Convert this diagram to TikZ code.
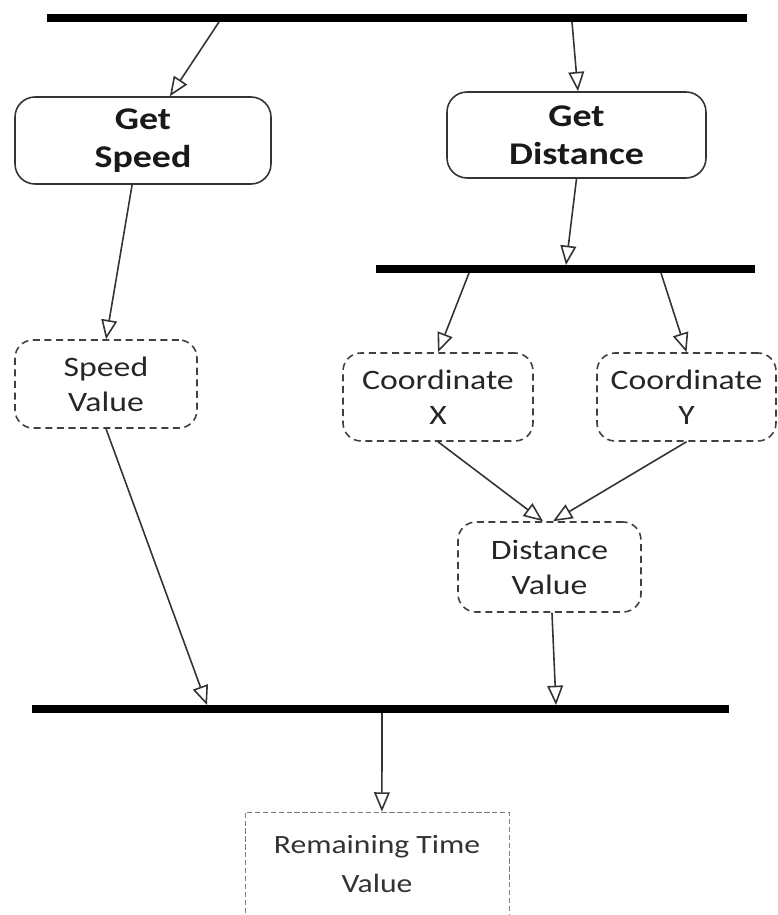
\documentclass[tikz,border=0pt]{standalone}
\usepackage{fontspec}
\setmainfont{Carlito}[FakeStretch=1.2]
\usepackage{tikz}
\usetikzlibrary{positioning,arrows.meta}

\begin{document}
\begin{tikzpicture}[x=0.02cm,y=-0.02cm,
    actbox/.style={draw=black!80,line width=0.9pt,rounded corners=0.4cm,
      align=center,inner sep=0pt,text=black!90,
      font=\bfseries\fontsize{18}{21.5}\selectfont},
    valbox/.style={draw=black!75,line width=0.9pt,dash pattern=on 4pt off 2.6pt,
      rounded corners=0.36cm,align=center,inner sep=0pt,text=black!85,
      font=\fontsize{16}{20}\selectfont},
    outbox/.style={draw=black!50,line width=0.5pt,dash pattern=on 3pt off 1.5pt,
      align=center,inner sep=0pt,text=black!80,
      font=\fontsize{15}{22.5}\selectfont},
    flow/.style={draw=black!80,line width=0.9pt,-{Triangle[open,length=11pt,width=9pt]}},
    bar/.style={line width=5pt}]
  % page frame (pixel grid, y downwards)
  \clip (0,0) rectangle (777,915);

  % fork / join bars
  \draw[bar] (47,18) -- (747,18);
  \draw[bar,line width=4.5pt] (376,269) -- (755,269);
  \draw[bar,line width=4.5pt] (32,709) -- (729,709);

  % points on the bars where flows start or end
  \coordinate (t1) at (219,22);
  \coordinate (t2) at (572,22);
  \coordinate (m0) at (566,265);
  \coordinate (m1) at (469,273);
  \coordinate (m2) at (661,273);
  \coordinate (b1) at (207,705);
  \coordinate (b2) at (556,705);
  \coordinate (b0) at (382,713);

  % actions
  \node[actbox,minimum width=5.12cm,minimum height=1.74cm] (getspeed) at (143,140.5) {Get\\Speed};
  \node[actbox,minimum width=5.18cm,minimum height=1.72cm] (getdist) at (576.5,135) {Get\\Distance};

  % values
  \node[valbox,minimum width=3.64cm,minimum height=1.76cm] (speedval) at (106,384) {Speed\\Value};
  \node[valbox,minimum width=3.8cm,minimum height=1.76cm] (coordx) at (438,397) {Coordinate\\X};
  \node[valbox,minimum width=3.58cm,minimum height=1.76cm] (coordy) at (686.5,397) {Coordinate\\Y};
  \node[valbox,minimum width=3.66cm,minimum height=1.8cm] (distval) at (549.5,567) {Distance\\Value};
  \node[outbox,minimum width=5.28cm,minimum height=2.08cm] (remtime) at (377,864) {Remaining Time\\Value};

  % flows
  \draw[flow] (t1) -- ([xshift=15.3pt]getspeed.north);
  \draw[flow] (t2) -- ([xshift=0.8pt]getdist.north);
  \draw[flow] ([xshift=-6.2pt]getspeed.south) -- (speedval.north);
  \draw[flow] (getdist.south) -- (m0);
  \draw[flow] (m1) -- (coordx.north);
  \draw[flow] (m2) -- (coordy.north);
  \draw[flow] (coordx.south) -- ([xshift=-3.7pt]distval.north);
  \draw[flow] (coordy.south) -- ([xshift=2pt]distval.north);
  \draw[flow] (speedval.south) -- (b1);
  \draw[flow] ([xshift=1.4pt]distval.south) -- (b2);
  \draw[flow] (b0) -- ([xshift=2.8pt]remtime.north);
\end{tikzpicture}
\end{document}
